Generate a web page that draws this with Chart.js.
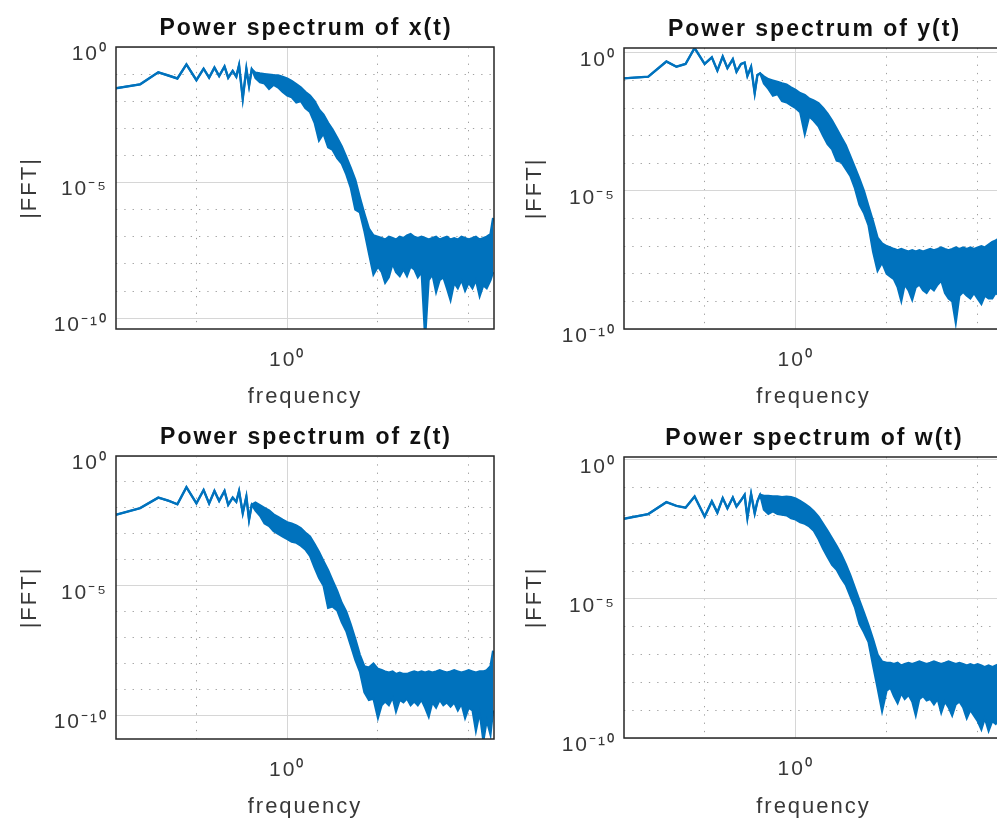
<!DOCTYPE html>
<html><head><meta charset="utf-8">
<script src="https://cdn.jsdelivr.net/npm/chart.js@4/dist/chart.umd.min.js"></script>
<style>
html,body{margin:0;padding:0;background:#fff;overflow:hidden;}
#wrap{position:relative;width:997px;height:823px;overflow:hidden;background:#fff;}
canvas{position:absolute;}
</style></head><body>
<div id="wrap">
<canvas id="c1" width="500" height="420" style="left:0;top:0;width:500px;height:420px"></canvas>
<canvas id="c2" width="510" height="420" style="left:500px;top:0;width:510px;height:420px"></canvas>
<canvas id="c3" width="500" height="413" style="left:0;top:410px;width:500px;height:413px"></canvas>
<canvas id="c4" width="510" height="413" style="left:500px;top:410px;width:510px;height:413px"></canvas>
</div>
<script>
// ---- data ----
const freq = [0.0129, 0.0240, 0.0380, 0.0490, 0.0617, 0.0776, 0.100, 0.120, 0.138, 0.158, 0.178, 0.204, 0.224, 0.251, 0.275, 0.295, 0.324, 0.355, 0.380, 0.407, 0.447,
  0.501, 0.562, 0.631, 0.708, 0.794, 0.891, 1.00, 1.12, 1.26, 1.41, 1.58, 1.78, 2.00, 2.24, 2.51, 2.82, 3.16, 3.55, 3.98, 4.47, 5.01, 5.62, 6.31, 7.08, 7.94, 8.91, 10.0,
  11.0, 12.0, 13.2, 14.5, 15.8, 17.4, 19.1, 20.9, 22.9, 25.1, 27.5, 30.2, 33.1, 36.3, 39.8, 43.7, 47.9, 52.5, 57.5, 63.1, 69.2, 75.9, 83.2, 91.2, 100, 110, 120, 132, 145, 158, 174, 186];

// x(t): upper and lower edge of the trace
const xHi = [0.030, 0.042, 0.117, 0.089, 0.069, 0.229, 0.060, 0.158, 0.074, 0.174, 0.085, 0.191, 0.074, 0.132, 0.081, 0.214, 0.0126, 0.158, 0.037, 0.151, 0.112,
  0.105, 0.100, 0.095, 0.091, 0.089, 0.079, 0.068, 0.056, 0.042, 0.032, 0.022, 0.016, 0.010, 0.0050, 0.0032, 0.0016, 8.9e-4, 4.5e-4, 2.2e-4, 8.9e-5, 3.5e-5, 1.26e-5, 2.8e-6, 7.1e-7, 2.0e-7, 1.12e-7, 1.0e-7,
  8.9e-8, 7.9e-8, 1.0e-7, 8.9e-8, 7.9e-8, 1.0e-7, 8.9e-8, 1.12e-7, 1.26e-7, 1.0e-7, 8.9e-8, 1.0e-7, 8.9e-8, 7.9e-8, 8.9e-8, 1.0e-7, 7.9e-8, 8.9e-8, 1.0e-7, 7.9e-8, 8.9e-8, 7.9e-8, 1.0e-7, 8.9e-8, 7.9e-8, 8.9e-8, 1.0e-7, 7.9e-8, 8.9e-8, 1.0e-7, 1.26e-7, 5.0e-7];
const xLo = [0.030, 0.042, 0.117, 0.089, 0.069, 0.229, 0.060, 0.158, 0.074, 0.174, 0.085, 0.191, 0.074, 0.132, 0.081, 0.214, 0.0126, 0.158, 0.037, 0.151, 0.071,
  0.050, 0.045, 0.028, 0.040, 0.032, 0.022, 0.016, 0.014, 0.0089, 0.010, 0.0056, 0.0040, 0.0016, 3.5e-4, 6.3e-4, 2.0e-4, 1.6e-4, 7.9e-5, 5.0e-5, 2.0e-5, 6.3e-6, 1.0e-6, 7.9e-7, 1.6e-7, 2.5e-8, 4.0e-9, 7.9e-9,
  5.0e-9, 2.0e-9, 3.2e-9, 1.0e-8, 5.0e-9, 3.5e-9, 6.3e-9, 3.5e-9, 7.9e-9, 6.3e-9, 3.2e-9, 5.0e-9, 1.6e-11, 2.5e-9, 4.0e-9, 8.9e-10, 2.5e-9, 3.2e-9, 1.26e-9, 4.5e-10, 2.0e-9, 1.26e-9, 2.5e-9, 1.0e-9, 2.0e-9, 1.26e-9, 2.5e-9, 6.3e-10, 1.6e-9, 1.26e-9, 2.5e-9, 5.0e-9];

// y(t)
const yHi = [0.120, 0.138, 0.49, 0.316, 0.398, 1.51, 0.398, 0.69, 0.229, 0.74, 0.282, 0.59, 0.209, 0.398, 0.447, 0.148, 0.316, 0.035, 0.158, 0.182, 0.141,
  0.112, 0.100, 0.089, 0.079, 0.071, 0.056, 0.045, 0.035, 0.030, 0.022, 0.019, 0.015, 0.010, 0.0063, 0.0035, 0.0018, 8.9e-4, 4.5e-4, 1.8e-4, 7.1e-5, 2.8e-5, 1.0e-5, 2.8e-6, 7.9e-7, 2.0e-7, 1.26e-7, 1.0e-7,
  8.9e-8, 7.9e-8, 7.1e-8, 7.9e-8, 7.1e-8, 6.3e-8, 7.1e-8, 6.3e-8, 7.1e-8, 6.3e-8, 7.1e-8, 7.9e-8, 7.1e-8, 7.9e-8, 8.9e-8, 7.9e-8, 7.1e-8, 7.9e-8, 8.9e-8, 7.9e-8, 8.9e-8, 7.9e-8, 8.9e-8, 7.9e-8, 8.9e-8, 1.0e-7, 8.9e-8, 1.12e-7, 1.41e-7, 1.58e-7, 2.0e-7, 3.2e-7];
const yLo = [0.120, 0.138, 0.49, 0.316, 0.398, 1.51, 0.398, 0.69, 0.229, 0.74, 0.282, 0.59, 0.209, 0.398, 0.447, 0.148, 0.316, 0.035, 0.158, 0.182, 0.079,
  0.050, 0.028, 0.032, 0.018, 0.016, 0.0126, 0.010, 0.0071, 0.00112, 0.0050, 0.0035, 0.0022, 0.0010, 5.0e-4, 3.2e-4, 1.26e-4, 1.12e-4, 6.3e-5, 3.5e-5, 1.26e-5, 3.2e-6, 1.6e-6, 5.6e-7, 6.3e-8, 1.26e-8, 2.5e-8, 1.0e-8,
  7.9e-9, 6.3e-9, 3.2e-9, 1.0e-9, 4.0e-9, 2.5e-9, 1.12e-9, 3.2e-9, 4.0e-9, 2.5e-9, 2.0e-9, 3.2e-9, 2.5e-9, 4.0e-9, 5.6e-9, 2.0e-9, 1.26e-9, 1.0e-9, 1.6e-10, 1.6e-9, 2.2e-9, 1.6e-9, 1.26e-9, 2.0e-9, 1.26e-9, 7.9e-10, 1.6e-9, 1.26e-9, 1.26e-9, 2.0e-9, 1.6e-9, 2.5e-9];

// z(t)
const zHi = [0.0054, 0.0098, 0.025, 0.019, 0.0138, 0.063, 0.015, 0.049, 0.015, 0.045, 0.0186, 0.045, 0.0132, 0.025, 0.0174, 0.045, 0.0063, 0.0275, 0.0035, 0.0132, 0.016,
  0.0126, 0.010, 0.0079, 0.0056, 0.0045, 0.0035, 0.0028, 0.0025, 0.0021, 0.00166, 0.00112, 7.9e-4, 4.0e-4, 2.0e-4, 8.9e-5, 4.0e-5, 1.58e-5, 6.3e-6, 2.2e-6, 1.0e-6, 3.2e-7, 8.9e-8, 2.2e-8, 7.9e-9, 7.1e-9, 1.0e-8, 6.3e-9,
  5.6e-9, 5.0e-9, 4.5e-9, 5.0e-9, 4.0e-9, 4.5e-9, 4.0e-9, 4.0e-9, 4.5e-9, 5.0e-9, 4.5e-9, 5.0e-9, 4.5e-9, 5.0e-9, 4.5e-9, 5.0e-9, 5.6e-9, 5.0e-9, 4.5e-9, 5.0e-9, 5.6e-9, 5.0e-9, 4.5e-9, 5.0e-9, 5.6e-9, 5.0e-9, 4.5e-9, 5.0e-9, 5.0e-9, 5.6e-9, 7.9e-9, 3.2e-8];
const zLo = [0.0054, 0.0098, 0.025, 0.019, 0.0138, 0.063, 0.015, 0.049, 0.015, 0.045, 0.0186, 0.045, 0.0132, 0.025, 0.0174, 0.045, 0.0063, 0.0275, 0.0035, 0.0132, 0.0079,
  0.0050, 0.0025, 0.0020, 0.00126, 0.0010, 7.9e-4, 6.3e-4, 5.0e-4, 4.5e-4, 3.5e-4, 2.5e-4, 1.41e-4, 5.0e-5, 2.0e-5, 1.0e-5, 1.41e-6, 1.58e-6, 1.12e-6, 4.0e-7, 1.78e-7, 5.0e-8, 1.41e-8, 5.0e-9, 7.9e-10, 4.0e-10, 4.5e-10, 7.9e-11,
  2.5e-10, 3.5e-10, 2.5e-10, 5.0e-10, 1.41e-10, 4.0e-10, 3.2e-10, 4.5e-10, 2.5e-10, 3.5e-10, 2.5e-10, 4.0e-10, 2.0e-10, 8.9e-11, 3.2e-10, 2.0e-10, 4.0e-10, 2.5e-10, 3.2e-10, 2.2e-10, 3.2e-10, 1.58e-10, 2.8e-10, 7.9e-11, 2.0e-10, 1.58e-10, 2.5e-11, 1.26e-10, 1.0e-11, 6.3e-11, 1.78e-11, 1.58e-10];

// w(t)
const wHi = [0.0076, 0.0112, 0.030, 0.022, 0.019, 0.048, 0.0091, 0.032, 0.0126, 0.042, 0.018, 0.044, 0.021, 0.035, 0.055, 0.0083, 0.059, 0.012, 0.032, 0.055, 0.050,
  0.050, 0.048, 0.048, 0.045, 0.047, 0.045, 0.040, 0.033, 0.026, 0.020, 0.0141, 0.0089, 0.0050, 0.0028, 0.0015, 7.9e-4, 4.0e-4, 1.78e-4, 7.1e-5, 2.5e-5, 8.9e-6, 3.2e-6, 1.12e-6, 3.5e-7, 1.0e-7, 5.6e-8, 5.0e-8,
  5.0e-8, 4.5e-8, 5.0e-8, 4.0e-8, 4.5e-8, 5.0e-8, 4.5e-8, 5.0e-8, 5.6e-8, 5.0e-8, 4.5e-8, 5.0e-8, 5.6e-8, 5.0e-8, 4.5e-8, 5.0e-8, 5.6e-8, 5.0e-8, 4.5e-8, 5.0e-8, 4.5e-8, 4.0e-8, 4.5e-8, 4.0e-8, 4.5e-8, 4.0e-8, 3.5e-8, 4.0e-8, 3.5e-8, 4.0e-8, 4.5e-8, 5.0e-8];
const wLo = [0.0076, 0.0112, 0.030, 0.022, 0.019, 0.048, 0.0091, 0.032, 0.0126, 0.042, 0.018, 0.044, 0.021, 0.035, 0.055, 0.0083, 0.059, 0.012, 0.032, 0.055, 0.016,
  0.0112, 0.0141, 0.0112, 0.0105, 0.010, 0.0079, 0.0071, 0.0056, 0.0050, 0.0040, 0.0028, 0.00141, 6.3e-4, 3.2e-4, 1.66e-4, 1.12e-4, 5.6e-5, 3.2e-5, 1.26e-5, 5.0e-6, 1.26e-6, 6.3e-7, 2.8e-7, 4.0e-8, 6.3e-9, 8.9e-10, 5.0e-9,
  6.3e-9, 3.2e-9, 1.78e-9, 4.0e-9, 2.5e-9, 3.5e-9, 2.0e-9, 6.3e-10, 2.5e-9, 3.2e-9, 2.2e-9, 2.5e-9, 1.6e-9, 2.5e-9, 7.9e-10, 2.0e-9, 1.26e-9, 6.3e-10, 1.6e-9, 2.0e-9, 1.26e-9, 5.0e-10, 1.0e-9, 6.3e-10, 4.0e-10, 2.0e-10, 5.0e-10, 1.78e-10, 4.0e-10, 3.2e-10, 5.0e-10, 6.3e-10];

// axes
const xRange = [0.013, 190];
const yRangeX = [4.0e-11, 1];
const yRangeY = [1e-10, 1.51];
const yRangeZ = [1.26e-11, 1];
const yRangeW = [1e-10, 1.26];
const xGridValues = [0.1, 1, 10, 100];
const yGridValues = [1, 0.1, 0.01, 1e-3, 1e-4, 1e-5, 1e-6, 1e-7, 1e-8, 1e-9, 1e-10];
const xLabelValues = [1];
const xLabelTexts = ['10⁰'];
const yLabelValues = [1, 1e-5, 1e-10];
const yLabelTexts = ['10⁰', '10⁻⁵', '10⁻¹⁰'];
const titles = ['Power spectrum of x(t)', 'Power spectrum of y(t)', 'Power spectrum of z(t)', 'Power spectrum of w(t)'];

// ---- rendering ----
const FAM = '"Liberation Sans", Arial, Helvetica, sans-serif';
const BLUE = '#0072BD';
const TXT = '#383838';

const boxPlugin = {
  id: 'box',
  beforeDraw(chart) { try { chart.ctx.letterSpacing = '2px'; } catch (e) {} },
  afterDraw(chart, args, opts) {
    const ctx = chart.ctx, a = chart.chartArea;
    ctx.save();
    ctx.setLineDash([]);
    ctx.strokeStyle = '#262626';
    ctx.lineWidth = 1.5;
    ctx.strokeRect(a.left, a.top, a.right - a.left, a.bottom - a.top);
    ctx.fillStyle = '#111';
    ctx.font = 'bold 23px ' + FAM;
    ctx.textAlign = 'center';
    ctx.textBaseline = 'alphabetic';
    ctx.fillText(opts.title, (a.left + a.right) / 2 + 1, a.top - 12);
    ctx.restore();
  }
};

function isMajor(c) {
  const v = c.tick ? c.tick.value : null;
  return c.scale.axis === 'x' ? xLabelValues.includes(v) : yLabelValues.includes(v);
}
function gridColor(c) { return isMajor(c) ? '#d6d6d6' : '#a0a0a0'; }
function gridDash(c) { return isMajor(c) ? [] : [1.3, 7]; }

function make(id, hi, lo, yRange, title, lay) {
  const ds = (arr) => freq.map((f, i) => ({ x: f, y: arr[i] }));
  new Chart(document.getElementById(id), {
    type: 'line',
    data: {
      datasets: [
        { data: ds(hi), borderColor: BLUE, borderWidth: 2.4, pointRadius: 0, fill: false, tension: 0, clip: 0 },
        { data: ds(lo), borderColor: BLUE, borderWidth: 2, pointRadius: 0, fill: '-1', backgroundColor: BLUE, tension: 0, clip: 0 }
      ]
    },
    options: {
      responsive: false, animation: false, events: [],
      layout: { padding: { left: 0, top: lay.top, right: lay.right, bottom: 0 } },
      plugins: { legend: { display: false }, tooltip: { enabled: false }, box: { title: title } },
      scales: {
        x: {
          type: 'logarithmic', min: xRange[0], max: xRange[1],
          afterBuildTicks: s => { s.ticks = xGridValues.map(v => ({ value: v })); },
          afterFit: s => { s.height = lay.xh; },
          ticks: {
            autoSkip: false, maxRotation: 0, padding: 19, color: TXT,
            font: { family: FAM, size: 21 },
            callback: v => { const i = xLabelValues.indexOf(v); return i >= 0 ? xLabelTexts[i] : ''; }
          },
          grid: { drawTicks: false, color: gridColor, lineWidth: 1 },
          border: { display: false, dash: gridDash },
          title: { display: true, text: 'frequency', color: TXT, font: { family: FAM, size: 22 }, padding: { top: 0, bottom: lay.xt } }
        },
        y: {
          type: 'logarithmic', min: yRange[0], max: yRange[1],
          afterBuildTicks: s => { s.ticks = yGridValues.filter(v => v >= yRange[0] && v <= yRange[1]).map(v => ({ value: v })); },
          afterFit: s => { s.width = lay.yw; },
          ticks: {
            autoSkip: false, padding: 8, color: TXT, labelOffset: 7,
            font: { family: FAM, size: 21 },
            callback: v => { const i = yLabelValues.indexOf(v); return i >= 0 ? yLabelTexts[i] : ''; }
          },
          grid: { drawTicks: false, color: gridColor, lineWidth: 1 },
          border: { display: false, dash: gridDash },
          title: { display: true, text: '|FFT|', color: TXT, font: { family: FAM, size: 22 }, padding: { top: lay.yt, bottom: 0 } }
        }
      }
    },
    plugins: [boxPlugin]
  });
}

make('c1', xHi, xLo, yRangeX, titles[0], { top: 47, right: 6, xh: 91, yw: 116, xt: 10, yt: 17 });
make('c2', yHi, yLo, yRangeY, titles[1], { top: 48, right: 7, xh: 91, yw: 124, xt: 10, yt: 22 });
make('c3', zHi, zLo, yRangeZ, titles[2], { top: 46, right: 6, xh: 84, yw: 116, xt: 3, yt: 17 });
make('c4', wHi, wLo, yRangeW, titles[3], { top: 47, right: 7, xh: 85, yw: 124, xt: 3, yt: 22 });
</script>
</body></html>
